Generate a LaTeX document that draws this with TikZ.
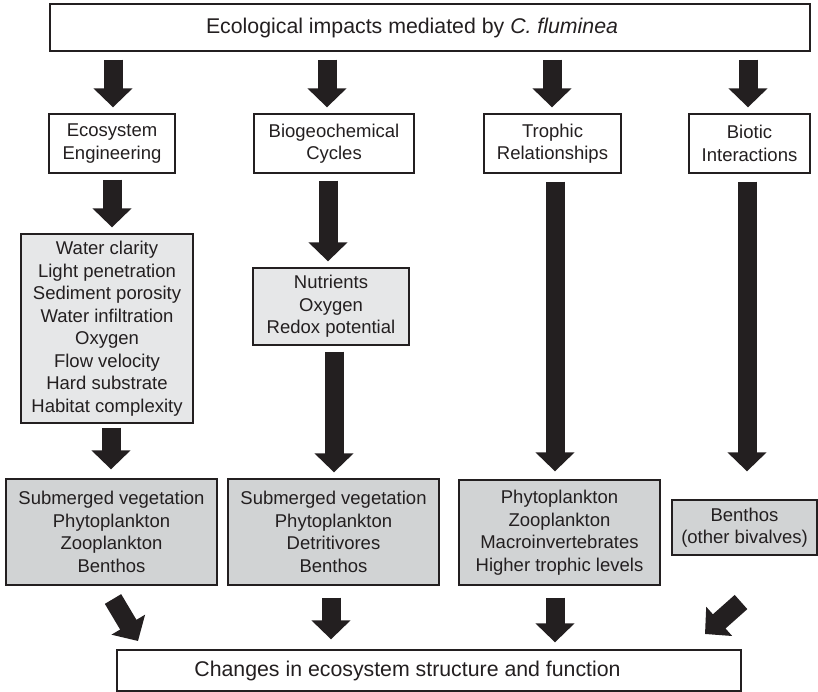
\documentclass[tikz,border=0pt]{standalone}
\usepackage{fontspec}
\setmainfont{Liberation Sans}
\usetikzlibrary{arrows.meta}
\definecolor{ink}{HTML}{231F20}
\definecolor{lightfill}{HTML}{E6E7E8}
\definecolor{midfill}{HTML}{D1D3D4}
\tikzset{
  box/.style={draw=ink, line width=1.3pt, inner sep=0pt, align=center, text=ink,
    font=\fontsize{18.5}{22.5}\selectfont},
  whitebox/.style={box, fill=white},
  listbox/.style={box, fill=lightfill},
  effbox/.style={box, fill=midfill},
  bigbox/.style={draw=ink, line width=1.3pt, inner sep=0pt, fill=white, text=ink,
    font=\fontsize{21.3}{25}\selectfont},
  fat/.style={draw=ink, line width=19pt,
    -{Triangle[width=38pt,length=19pt]}, color=ink}
}
\begin{document}
\begin{tikzpicture}[x=1pt,y=-1pt]
\useasboundingbox (0,0) rectangle (818,692);
% nodes
\node[bigbox, minimum width=760pt, minimum height=47pt] (top) at (430,27.5)
  {Ecological impacts mediated by \textit{C. fluminea}\kern36pt};
\node[whitebox, minimum width=126pt, minimum height=59pt] (ee) at (112,143.5) {Ecosystem\\Engineering};
\node[whitebox, minimum width=160pt, minimum height=59pt] (bc) at (334,143.5) {Biogeochemical\\Cycles};
\node[whitebox, minimum width=137pt, minimum height=59pt] (tr) at (552.5,143.5) {Trophic\\Relationships};
\node[whitebox, minimum width=121pt, minimum height=59pt] (bi) at (749.5,143.5) {Biotic\\Interactions};
\node[listbox, minimum width=172pt, minimum height=189pt] (l1) at (107,328.5)
  {Water clarity\\Light penetration\\Sediment porosity\\Water infiltration\\Oxygen\\Flow velocity\\Hard substrate\\Habitat complexity};
\node[listbox, minimum width=156pt, minimum height=77pt] (l2) at (331,306.5)
  {Nutrients\\Oxygen\\Redox potential};
\node[effbox, minimum width=211pt, minimum height=106pt] (ea) at (111.5,532)
  {Submerged vegetation\\Phytoplankton\\Zooplankton\\Benthos};
\node[effbox, minimum width=211pt, minimum height=106pt] (eb) at (333.5,532)
  {Submerged vegetation\\Phytoplankton\\Detritivores\\Benthos};
\node[effbox, minimum width=201pt, minimum height=105pt] (ec) at (559.5,532.5)
  {Phytoplankton\\Zooplankton\\Macroinvertebrates\\Higher trophic levels};
\node[effbox, minimum width=145pt, minimum height=55pt] (ed) at (744.5,527.5)
  {Benthos\\(other bivalves)};
\node[bigbox, minimum width=624pt, minimum height=41pt] (ch) at (429,670.5)
  {Changes in ecosystem structure and function\kern43pt};
% column x references
\coordinate (k1) at (113,0);
\coordinate (k2) at (327,0);
\coordinate (k3) at (552,0);
\coordinate (k4) at (748,0);
\coordinate (m1) at (112,0);
\coordinate (m2) at (328,0);
\coordinate (m3) at (555,0);
\coordinate (m4) at (747,0);
\coordinate (n1) at (111,0);
\coordinate (n2) at (334,0);
% arrows top row
\draw[fat] ([yshift=-8pt]top.south -| k1) -- ([yshift=6pt]ee.north -| k1);
\draw[fat] ([yshift=-8pt]top.south -| k2) -- ([yshift=6pt]bc.north -| k2);
\draw[fat] ([yshift=-8pt]top.south -| k3) -- ([yshift=6pt]tr.north -| k3);
\draw[fat] ([yshift=-8pt]top.south -| k4) -- ([yshift=6pt]bi.north -| k4);
% second level
\draw[fat] ([yshift=-6pt]ee.south -| m1) -- ([yshift=6pt]l1.north -| m1);
\draw[fat] ([yshift=-7pt]bc.south -| m2) -- ([yshift=6pt]l2.north -| m2);
\draw[fat] ([yshift=-8pt]tr.south -| m3) -- ([yshift=8pt]ec.north -| m3);
\draw[fat] ([yshift=-8pt]bi.south -| m4) -- ([yshift=28pt]ed.north -| m4);
% lists to effects
\draw[fat] ([yshift=-4pt]l1.south -| n1) -- ([yshift=9pt]ea.north -| n1);
\draw[fat] ([yshift=-6pt]l2.south -| n2) -- ([yshift=6pt]eb.north -| n2);
% effects to changes
\coordinate (da) at (113,599);
\coordinate (dat) at (138,641);
\coordinate (dd) at (741,602);
\coordinate (ddt) at (705,634);
\coordinate (q2) at (331,0);
\draw[fat] (da) -- (dat);
\draw[fat] ([yshift=-12pt]eb.south -| q2) -- ([yshift=10pt]ch.north -| q2);
\draw[fat] ([yshift=-12pt]ec.south -| m3) -- ([yshift=7pt]ch.north -| m3);
\draw[fat] (dd) -- (ddt);
\end{tikzpicture}
\end{document}
